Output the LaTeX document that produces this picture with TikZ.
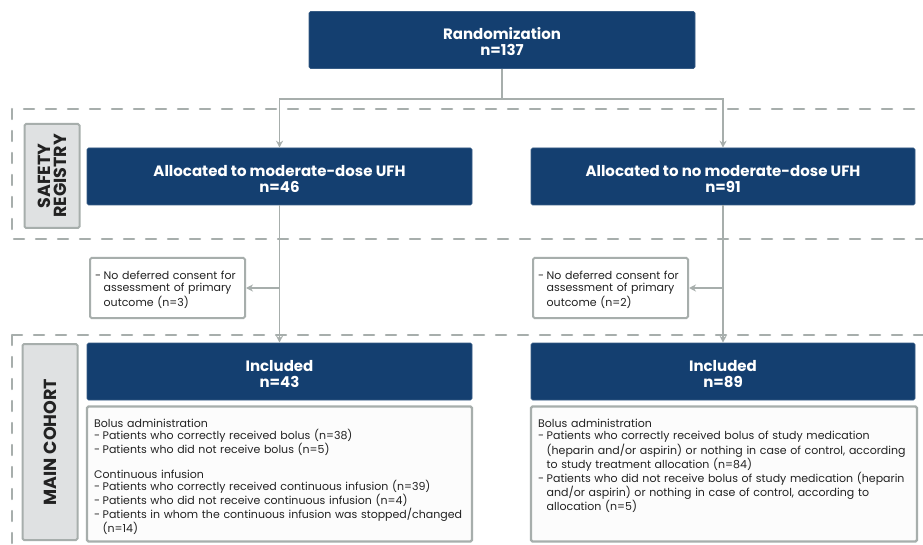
\documentclass[tikz,border=0pt]{standalone}
\usepackage{fontspec}
\setmainfont{Poppins}
\usetikzlibrary{arrows.meta}
\definecolor{navy}{HTML}{143F70}
\definecolor{frameGray}{HTML}{A7AEAC}
\definecolor{labelFill}{HTML}{DFE1E2}
\definecolor{bodyInk}{HTML}{222222}
\newcommand{\itm}[1]{\par\hangindent=8.5pt\hangafter=1\makebox[8.5pt][l]{-}#1\par}
\begin{document}
\begin{tikzpicture}[x=1pt,y=-1pt,
  navybox/.style={draw=navy!85!white,fill=navy,rounded corners=1.5pt,line width=0.6pt,
    minimum height=57pt,inner sep=0pt},
  titletext/.style={text=white,font=\fontsize{15}{16}\selectfont\bfseries,align=center,inner sep=0pt},
  sidelabel/.style={draw=frameGray,fill=labelFill,rounded corners=1.5pt,line width=2pt,
    inner sep=0pt},
  labeltext/.style={rotate=90,font=\fontsize{17.5}{16}\selectfont\bfseries,text=bodyInk,align=center},
  notebox/.style={draw=frameGray,fill=white,rounded corners=1.5pt,line width=2pt,
    inner sep=0pt,minimum width=155pt,minimum height=60pt},
  notetext/.style={font=\fontsize{11}{12.4}\selectfont,text=bodyInk,align=left,
    text width=150pt,inner sep=0pt},
  detailbox/.style={draw=frameGray,fill=black!1,rounded corners=1.5pt,line width=2.2pt,
    inner sep=0pt,minimum height=135pt},
  detailtext/.style={font=\fontsize{11}{12.3}\selectfont,text=bodyInk,align=left,
    inner sep=0pt},
  conn/.style={draw=frameGray,line width=1.5pt},
  arr/.style={conn,-{Stealth[length=7pt,width=7pt]}},
  groupframe/.style={draw=frameGray,line width=2.5pt,dash pattern=on 10pt off 12pt,line cap=round}
]
\clip (0,0) rectangle (923,545);
\fill[white] (0,0) rectangle (923,545);

% group frames
\draw[groupframe] (12,109) rectangle (960,239);
\draw[groupframe] (12,335) rectangle (960,580);

% top box
\node[navybox,minimum width=386pt] (rand) at (502,40) {};
\node[titletext] at ([yshift=-2pt]rand.center) {Randomization\\n=137};

% section labels
\node[sidelabel,minimum width=55pt,minimum height=104pt] (lblSafety) at (52,176) {};
\node[labeltext] at (lblSafety.center) {SAFETY\\REGISTRY};
\node[sidelabel,minimum width=55pt,minimum height=196pt] (lblMain) at (50,442) {};
\node[labeltext] at (lblMain.center) {MAIN COHORT};

% allocation boxes
\node[navybox,minimum width=385pt] (allocL) at (279.5,176.5) {};
\node[titletext] at ([yshift=-2.5pt]allocL.center) {Allocated to moderate-dose UFH\\n=46};
\node[navybox,minimum width=384pt] (allocR) at (723,176.5) {};
\node[titletext] at ([yshift=-2.5pt]allocR.center) {Allocated to no moderate-dose UFH\\n=91};

% exclusion notes
\node[notebox] (sideL) at (167.5,288) {};
\node[notetext,anchor=north west] at (95,267) {\itm{No deferred consent for\newline assessment of primary\newline outcome (n=3)}};
\node[notebox] (sideR) at (610.5,288) {};
\node[notetext,anchor=north west] at (538,267) {\itm{No deferred consent for\newline assessment of primary\newline outcome (n=2)}};

% included boxes
\node[navybox,minimum width=385pt] (inclL) at (279.5,371.5) {};
\node[titletext] at ([yshift=-2.5pt]inclL.center) {Included\\n=43};
\node[navybox,minimum width=384pt] (inclR) at (723,371.5) {};
\node[titletext] at ([yshift=-2.5pt]inclR.center) {Included\\n=89};

% detail boxes
\node[detailbox,minimum width=385pt] (detL) at (279.5,474) {};
\node[detailtext,anchor=north west,text width=375pt] at (94,419) {%
Bolus administration
\itm{Patients who correctly received bolus (n=38)}
\itm{Patients who did not receive bolus (n=5)}
\vspace{12.3pt}
Continuous infusion
\itm{Patients who correctly received continuous infusion (n=39)}
\itm{Patients who did not receive continuous infusion (n=4)}
\itm{Patients in whom the continuous infusion was stopped/changed\newline (n=14)}};

\node[detailbox,minimum width=386pt] (detR) at (724,474) {};
\node[detailtext,anchor=north west,text width=378pt] at (538,419) {%
Bolus administration
\itm{Patients who correctly received bolus of study medication\newline (heparin and/or aspirin) or nothing in case of control, according\newline to study treatment allocation (n=84)}
\itm{Patients who did not receive bolus of study medication (heparin\newline and/or aspirin) or nothing in case of control, according to\newline allocation (n=5)}};

% connectors
\coordinate (split) at (502,99);
\draw[conn] (rand.south) -- (split);
\draw[arr] (split) -| (allocL.north);
\draw[arr] (split) -| (allocR.north);
\draw[arr] (allocL.south) -- (inclL.north);
\draw[arr] (allocR.south) -- (inclR.north);
\draw[arr] (allocL.south |- sideL.east) -- (sideL.east);
\draw[arr] (allocR.south |- sideR.east) -- (sideR.east);
\end{tikzpicture}
\end{document}
